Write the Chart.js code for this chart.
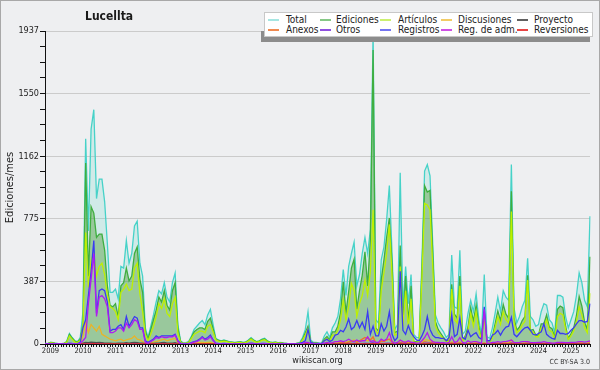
<!DOCTYPE html>
<html>
<head>
<meta charset="utf-8">
<script src="https://cdn.jsdelivr.net/npm/chart.js@4.4.1/dist/chart.umd.min.js"></script>
<style>
  html, body { margin: 0; padding: 0; background: #eeeff1; }
  #wrap { position: relative; width: 600px; height: 370px; background: #eeeff1; overflow: hidden;
          font-family: 'DejaVu Sans Condensed', 'DejaVu Sans', sans-serif; color: #1a1a1a; }
  #chart { position: absolute; left: 0; top: 0; }
  #frame { position: absolute; left: 0; top: 0; width: 600px; height: 370px; box-sizing: border-box;
           border: 1px solid #a8a8a8; pointer-events: none; }
  #title { position: absolute; left: 85px; top: 9px; font-weight: bold; font-size: 12px; }
  #legShadow { position: absolute; left: 261px; top: 31px; width: 329px; height: 11px; background: #8c8c8c; }
  #legend { position: absolute; left: 264px; top: 12px; width: 329px; height: 25px; background: #fff;
            border: 1px solid #c8c8c8; box-sizing: border-box; }
  .lg-line { position: absolute; width: 11px; height: 2px; }
  .lg-text { position: absolute; font-size: 10px; line-height: 10px; white-space: nowrap; color: #222; }
  #cc { position: absolute; right: 10px; top: 358px; font-size: 7px; color: #333; }
</style>
</head>
<body>
<div id="wrap">
  <canvas id="chart" width="600" height="370"></canvas>
  <div id="title">Lucellta</div>
  <div id="legShadow"></div>
  <div id="legend"></div>
  <div id="cc">CC BY-SA 3.0</div>
  <div id="frame"></div>
</div>
<script>
// monthly values, 2008-11 .. 2025-08
const startYear = 2008, startMonth = 11;

const total = [
  3, 2, 10, 8, 3, 2, 2, 3, 15, 65, 40, 20, 15, 40,
  200, 1270, 700, 1330, 1450, 900, 1020, 1020, 880, 620, 320, 320, 340, 280, 480, 470, 640, 500, 560, 730, 760, 500, 420, 100, 40, 110, 180, 260, 330, 310, 380, 290, 260, 380, 440, 120, 20,
  5, 8, 15, 50, 90, 110, 130, 145, 120, 180, 215, 120, 35, 25,
  20, 25, 20, 15, 12, 10, 12, 15, 10, 12, 25, 40, 25, 15, 20, 30, 35, 20, 12, 10, 12, 8, 10, 6, 4, 0, 1, 0, 5, 10, 40, 90,
  200, 25, 10, 10, 5, 5, 50, 76, 40, 100, 130, 170, 280, 460, 300, 480, 560, 630, 360, 430, 560, 660, 560, 710, 1937, 150, 130, 520, 600, 770, 980, 560, 90, 120, 1060, 230, 480, 250, 430, 60, 40, 40, 500, 1070, 1110, 1040, 620,
  180, 130, 100, 75, 40, 60, 550, 230, 220, 580, 60, 80, 190, 270, 200, 310, 150, 60, 430, 45, 35, 100, 190, 290, 200, 330, 290, 270, 1110, 220, 130, 170, 230, 270, 530, 170, 150, 110, 120, 200, 250, 240, 150, 130, 70, 300, 300, 290, 170, 100, 150, 200, 300, 440, 380, 270, 230, 790
];
const ediciones = [
  3, 2, 10, 8, 3, 2, 2, 3, 13, 60, 37, 18, 13, 30,
  120, 1120, 420, 850, 810, 660, 680, 680, 580, 360, 240, 230, 250, 170, 360, 380, 470, 390, 420, 560, 600, 400, 320, 80, 30, 90, 150, 210, 290, 260, 330, 240, 210, 330, 380, 100, 15,
  4, 6, 12, 42, 75, 90, 100, 100, 90, 140, 160, 95, 30, 22,
  18, 22, 18, 13, 11, 9, 11, 13, 9, 11, 22, 35, 22, 13, 18, 27, 31, 18, 11, 9, 11, 7, 9, 5, 4, 0, 1, 0, 4, 5, 30, 70,
  110, 15, 5, 7, 2, 3, 30, 46, 25, 75, 75, 110, 195, 385, 195, 325, 470, 525, 215, 330, 425, 570, 360, 650, 1820, 100, 80, 395, 520, 660, 780, 500, 70, 80, 610, 145, 420, 135, 360, 15, 15, 20, 450, 980, 940, 950, 565,
  140, 90, 65, 40, 20, 20, 370, 185, 160, 420, 20, 50, 105, 225, 140, 240, 110, 30, 200, 25, 15, 45, 125, 205, 145, 245, 185, 160, 945, 160, 85, 105, 145, 170, 425, 85, 90, 55, 55, 125, 125, 180, 105, 95, 40, 215, 235, 225, 110, 35, 65, 100, 175, 295, 235, 135, 90, 540
];
const articulos = [
  2, 1, 6, 5, 2, 1, 1, 2, 10, 50, 30, 12, 10, 22,
  100, 690, 350, 520, 560, 420, 480, 500, 430, 300, 230, 220, 200, 150, 320, 340, 370, 330, 340, 470, 500, 310, 200, 60, 20, 60, 110, 170, 250, 220, 280, 190, 170, 250, 290, 70, 10,
  3, 5, 10, 35, 60, 70, 80, 80, 70, 110, 120, 75, 25, 18,
  14, 18, 14, 10, 8, 6, 8, 10, 6, 8, 18, 30, 18, 10, 14, 22, 26, 14, 8, 6, 8, 5, 6, 3, 2, 0, 1, 0, 3, 4, 25, 55,
  95, 12, 4, 5, 2, 2, 20, 35, 18, 55, 55, 85, 150, 272, 150, 230, 376, 330, 170, 250, 300, 396, 300, 450, 830, 80, 60, 330, 440, 560, 740, 420, 55, 60, 480, 110, 330, 100, 280, 10, 10, 15, 400, 870, 860, 830, 480,
  110, 70, 50, 30, 15, 15, 340, 150, 130, 360, 15, 40, 85, 190, 110, 200, 90, 25, 160, 20, 12, 35, 100, 170, 120, 200, 150, 130, 820, 130, 70, 85, 120, 140, 396, 70, 75, 45, 45, 100, 100, 150, 85, 75, 30, 170, 190, 180, 90, 28, 50, 80, 140, 230, 180, 100, 70, 314
];
const discusiones = [
  0, 0, 1, 1, 0, 0, 0, 0, 1, 3, 2, 1, 1, 3,
  50, 140, 70, 120, 100, 80, 110, 60, 50, 40, 30, 25, 20, 25, 30, 20, 25, 30, 35, 50, 30, 25, 15, 5, 3, 8, 12, 15, 20, 25, 30, 20, 25, 30, 35, 8, 2,
  0, 0, 1, 3, 5, 8, 10, 10, 8, 10, 12, 6, 2, 1,
  1, 2, 1, 1, 1, 0, 1, 1, 0, 1, 2, 3, 2, 1, 1, 2, 2, 1, 1, 0, 1, 0, 1, 0, 0, 0, 0, 0, 0, 1, 3, 5,
  8, 1, 0, 0, 0, 0, 2, 3, 2, 5, 5, 6, 10, 15, 10, 15, 20, 25, 12, 15, 20, 25, 20, 25, 40, 5, 4, 15, 20, 25, 30, 20, 4, 5, 25, 8, 15, 6, 12, 1, 1, 1, 15, 25, 25, 20, 15,
  8, 5, 4, 3, 2, 2, 12, 8, 6, 12, 2, 3, 5, 8, 6, 10, 5, 2, 8, 2, 1, 3, 6, 8, 6, 10, 8, 6, 25, 6, 4, 5, 6, 8, 15, 4, 4, 3, 3, 6, 5, 8, 5, 4, 2, 8, 10, 8, 5, 2, 3, 4, 6, 10, 8, 5, 4, 15
];
const proyecto = [
  0, 0, 0, 0, 0, 0, 0, 0, 0, 0, 0, 0, 0, 0,
  5, 10, 8, 12, 10, 8, 10, 8, 6, 6, 5, 4, 4, 5, 6, 5, 8, 6, 8, 10, 8, 6, 5, 2, 1, 3, 4, 5, 6, 8, 10, 6, 5, 6, 8, 3, 1,
  0, 0, 0, 1, 1, 1, 2, 2, 1, 1, 2, 1, 0, 0,
  0, 0, 0, 0, 0, 0, 0, 0, 0, 0, 0, 0, 0, 0, 0, 0, 0, 0, 0, 0, 0, 0, 0, 0, 0, 0, 0, 0, 0, 0, 0, 0,
  1, 0, 0, 0, 0, 0, 0, 0, 0, 1, 1, 1, 1, 2, 1, 1, 2, 2, 1, 1, 1, 2, 1, 2, 3, 0, 0, 1, 1, 2, 2, 1, 0, 0, 2, 1, 1, 0, 1, 0, 0, 0, 1, 2, 2, 2, 1,
  1, 0, 0, 0, 0, 0, 1, 1, 0, 1, 0, 0, 0, 1, 0, 1, 0, 0, 1, 0, 0, 0, 1, 1, 0, 1, 1, 0, 2, 0, 0, 0, 1, 1, 1, 0, 0, 0, 0, 1, 1, 1, 0, 0, 0, 1, 1, 1, 0, 0, 0, 1, 1, 1, 1, 0, 0, 2
];
const anexos = [
  0, 0, 0, 0, 0, 0, 0, 0, 0, 0, 0, 0, 0, 0,
  0, 2, 1, 3, 2, 1, 2, 1, 1, 1, 0, 0, 1, 0, 1, 0, 1, 0, 1, 2, 1, 0, 0, 0, 0, 0, 1, 0, 1, 0, 1, 0, 0, 1, 1, 0, 0,
  0, 0, 0, 0, 0, 0, 0, 0, 0, 0, 0, 0, 0, 0,
  0, 0, 0, 0, 0, 0, 0, 0, 0, 0, 0, 0, 0, 0, 0, 0, 0, 0, 0, 0, 0, 0, 0, 0, 0, 0, 0, 0, 0, 0, 0, 0,
  0, 0, 0, 0, 0, 0, 1, 1, 0, 2, 3, 4, 8, 10, 6, 12, 15, 18, 10, 20, 30, 40, 35, 25, 45, 5, 3, 20, 15, 25, 30, 10, 2, 3, 10, 5, 8, 4, 6, 0, 0, 0, 5, 15, 12, 10, 8,
  4, 3, 2, 2, 1, 1, 6, 3, 3, 5, 1, 1, 2, 3, 2, 3, 2, 1, 3, 1, 1, 1, 2, 3, 2, 3, 3, 2, 8, 2, 1, 2, 2, 3, 5, 1, 1, 1, 1, 2, 2, 3, 2, 2, 1, 3, 3, 3, 2, 1, 1, 2, 3, 4, 3, 2, 2, 6
];
const otros = [
  0, 0, 0, 0, 0, 0, 0, 0, 0, 0, 0, 0, 0, 0,
  0, 3, 2, 5, 4, 3, 4, 2, 2, 2, 1, 1, 1, 1, 2, 1, 2, 1, 2, 3, 2, 1, 1, 0, 0, 1, 1, 2, 1, 2, 2, 1, 1, 2, 2, 0, 0,
  0, 0, 0, 1, 1, 2, 2, 2, 1, 2, 2, 1, 0, 0,
  0, 0, 0, 0, 0, 0, 0, 0, 0, 0, 0, 0, 0, 0, 0, 0, 0, 0, 0, 0, 0, 0, 0, 0, 0, 0, 0, 0, 0, 0, 0, 0,
  0, 0, 0, 0, 0, 0, 0, 1, 0, 1, 1, 2, 2, 3, 2, 3, 4, 5, 2, 3, 4, 5, 4, 5, 8, 1, 1, 3, 4, 5, 6, 3, 1, 1, 5, 2, 3, 1, 2, 0, 0, 0, 3, 6, 6, 5, 3,
  2, 1, 1, 1, 0, 0, 4, 2, 2, 4, 0, 1, 1, 2, 1, 2, 1, 0, 3, 0, 0, 1, 1, 2, 1, 2, 2, 1, 6, 1, 1, 1, 1, 2, 3, 1, 1, 0, 0, 1, 1, 2, 1, 1, 0, 2, 2, 2, 1, 0, 1, 1, 2, 3, 2, 1, 1, 4
];
const registros = [
  0, 0, 0, 0, 0, 0, 0, 0, 2, 5, 3, 2, 2, 10,
  100, 150, 300, 450, 640, 190, 330, 340, 330, 260, 80, 90, 90, 110, 120, 90, 170, 110, 140, 170, 160, 100, 100, 20, 10, 20, 30, 50, 40, 50, 50, 50, 50, 50, 60, 20, 5,
  1, 2, 3, 8, 15, 20, 30, 45, 30, 40, 55, 25, 5, 3,
  2, 3, 2, 2, 1, 1, 1, 2, 1, 1, 3, 5, 3, 2, 2, 3, 4, 2, 1, 1, 1, 1, 1, 1, 0, 0, 0, 0, 1, 5, 10, 20,
  90, 10, 5, 3, 3, 2, 20, 30, 15, 25, 55, 60, 85, 75, 105, 155, 90, 105, 145, 100, 135, 90, 200, 60, 110, 50, 50, 125, 80, 110, 200, 60, 20, 40, 450, 85, 60, 115, 70, 45, 25, 20, 50, 90, 170, 90, 55,
  40, 40, 35, 35, 20, 40, 180, 45, 60, 160, 40, 30, 85, 45, 60, 70, 40, 30, 230, 20, 20, 55, 65, 85, 55, 85, 105, 110, 165, 60, 45, 65, 85, 100, 105, 85, 60, 55, 65, 75, 125, 60, 45, 35, 30, 85, 65, 65, 60, 65, 85, 100, 125, 145, 145, 135, 140, 250
];
const regAdm = [
  0, 0, 0, 0, 0, 0, 0, 0, 0, 0, 0, 0, 0, 5,
  20, 40, 250, 400, 560, 170, 290, 300, 280, 230, 70, 70, 80, 100, 100, 80, 130, 100, 120, 150, 140, 90, 90, 10, 5, 15, 25, 40, 35, 45, 40, 40, 45, 45, 55, 15, 2,
  0, 1, 2, 5, 12, 15, 25, 40, 25, 30, 45, 20, 3, 1,
  1, 1, 1, 0, 0, 0, 0, 1, 0, 0, 1, 2, 1, 0, 1, 1, 2, 1, 0, 0, 0, 0, 0, 0, 0, 0, 0, 0, 0, 2, 4, 10,
  10, 2, 1, 0, 0, 0, 5, 10, 5, 8, 15, 15, 20, 15, 20, 30, 20, 15, 25, 15, 20, 20, 45, 15, 20, 10, 10, 30, 20, 30, 70, 15, 5, 10, 25, 15, 10, 20, 10, 10, 5, 5, 20, 40, 70, 30, 15,
  10, 10, 8, 8, 5, 10, 45, 10, 15, 40, 10, 5, 20, 10, 15, 15, 10, 5, 215, 5, 5, 10, 10, 15, 10, 15, 15, 20, 25, 10, 8, 10, 15, 15, 15, 10, 8, 8, 10, 10, 15, 10, 8, 5, 5, 10, 10, 10, 8, 8, 10, 10, 12, 15, 15, 12, 15, 20
];
const reversiones = [
  0, 0, 0, 0, 0, 0, 0, 0, 0, 0, 0, 0, 0, 0,
  0, 1, 0, 1, 2, 1, 1, 0, 1, 0, 0, 0, 0, 0, 1, 0, 0, 0, 1, 1, 0, 0, 0, 0, 0, 0, 0, 0, 0, 0, 0, 0, 0, 0, 1, 0, 0,
  0, 0, 0, 0, 0, 0, 0, 0, 0, 0, 0, 0, 0, 0,
  0, 0, 0, 0, 0, 0, 0, 0, 0, 0, 0, 0, 0, 0, 0, 0, 0, 0, 0, 0, 0, 0, 0, 0, 0, 0, 0, 0, 0, 0, 0, 0,
  0, 0, 0, 0, 0, 0, 0, 0, 0, 0, 0, 0, 0, 1, 0, 0, 1, 1, 0, 0, 1, 1, 1, 0, 2, 0, 0, 0, 0, 1, 1, 0, 0, 0, 1, 0, 0, 0, 0, 0, 0, 0, 0, 1, 1, 0, 0,
  0, 0, 0, 0, 0, 0, 1, 0, 0, 1, 0, 0, 0, 0, 0, 0, 0, 0, 1, 0, 0, 0, 0, 0, 0, 0, 0, 0, 1, 0, 0, 0, 0, 0, 1, 0, 0, 0, 0, 0, 0, 0, 0, 0, 0, 0, 0, 0, 0, 0, 0, 0, 0, 0, 0, 0, 0, 1
];

const yMax = 1937;
const legendRows = [
    ['Total', 'Ediciones', 'Artículos', 'Discusiones', 'Proyecto'],
    ['Anexos', 'Otros', 'Registros', 'Reg. de adm.', 'Reversiones']
];
const legendColors = {
    'Total': '#a6e6e2', 'Ediciones': '#86c886', 'Artículos': '#ccf070', 'Discusiones': '#f2cc66', 'Proyecto': '#606060',
    'Anexos': '#f08a50', 'Otros': '#9050e0', 'Registros': '#7474f2', 'Reg. de adm.': '#d050e6', 'Reversiones': '#e84444'
};

const months = total.map((_, i) => {
    const m = startMonth - 1 + i;
    return (startYear + Math.floor(m / 12)) + '-' + String(m % 12 + 1).padStart(2, '0');
});
const yTicks = [];
for (let k = 0; k <= 20; k++) yTicks.push(yMax * k / 20);

// legend box
const legendEl = document.getElementById('legend');
const lineX = [3, 55, 115, 176, 252];
const textX = [21, 71, 133, 193, 269];
legendRows.forEach((row, r) => {
    row.forEach((name, c) => {
        const ln = document.createElement('div');
        ln.className = 'lg-line';
        ln.style.left = lineX[c] + 'px';
        ln.style.top = (6 + r * 10) + 'px';
        ln.style.background = legendColors[name];
        legendEl.appendChild(ln);
        const tx = document.createElement('div');
        tx.className = 'lg-text';
        tx.style.left = textX[c] + 'px';
        tx.style.top = (2 + r * 10) + 'px';
        tx.textContent = name;
        legendEl.appendChild(tx);
    });
});

function line(label, data, color, order, extra) {
    return Object.assign({
        label, data, borderColor: color, borderWidth: 1.3,
        pointRadius: 0, tension: 0, fill: false, order
    }, extra || {});
}

const datasets = [
    line('Total', total, '#46d2c8', 10, { fill: 'origin', backgroundColor: 'rgba(90,215,200,0.2)' }),
    line('Ediciones', ediciones, '#3fae3f', 9, { fill: 'origin', backgroundColor: 'rgba(70,150,40,0.4)' }),
    line('Artículos', articulos, '#bdf000', 8),
    line('Discusiones', discusiones, '#e8b428', 7),
    line('Anexos', anexos, '#f07030', 6),
    line('Otros', otros, '#8a3ce0', 5),
    line('Proyecto', proyecto, '#505050', 4),
    line('Reversiones', reversiones, '#e82828', 3),
    line('Registros', registros, '#3a3af2', 2),
    line('Reg. de adm.', regAdm, '#b01cf0', 1)
];

Chart.defaults.font.family = "'DejaVu Sans Condensed', 'DejaVu Sans', sans-serif";

new Chart(document.getElementById('chart').getContext('2d'), {
    type: 'line',
    data: { labels: months, datasets },
    options: {
        responsive: false,
        animation: false,
        devicePixelRatio: 1,
        layout: { padding: { top: 31, right: 10, left: 0, bottom: 0 } },
        plugins: {
            legend: { display: false },
            tooltip: { enabled: false }
        },
        scales: {
            x: {
                type: 'category',
                afterFit: s => { s.height = 26; },
                ticks: {
                    autoSkip: false, maxRotation: 0, minRotation: 0, padding: 0,
                    color: '#222', font: { size: 7.5 },
                    callback: function (v) {
                        const l = this.getLabelForValue(v);
                        return l.endsWith('-01') ? l.slice(0, 4) : '';
                    }
                },
                grid: { drawOnChartArea: false, drawTicks: true, tickLength: 3, color: '#111', tickColor: '#111' },
                border: { color: '#111', width: 1 },
                title: { display: true, text: 'wikiscan.org', font: { size: 9 }, color: '#222', padding: { top: 0, bottom: 4 } }
            },
            y: {
                min: 0,
                max: yMax,
                afterBuildTicks: s => { s.ticks = yTicks.map(v => ({ value: v })); },
                afterFit: s => { s.width = 45; },
                ticks: {
                    autoSkip: false, padding: 1, color: '#222', font: { size: 9 },
                    callback: (v, i) => i % 4 === 0 ? String(Math.round(v)) : ''
                },
                grid: {
                    color: c => (c.index % 4 === 0 && c.index > 0) ? '#cbcbcb' : 'rgba(0,0,0,0)',
                    tickColor: '#111', tickLength: 5, drawTicks: true
                },
                border: { color: '#111', width: 1 },
                title: { display: true, text: 'Ediciones/mes', font: { size: 11 }, color: '#222', padding: { top: 4, bottom: 0 } }
            }
        }
    }
});
</script>
</body>
</html>
